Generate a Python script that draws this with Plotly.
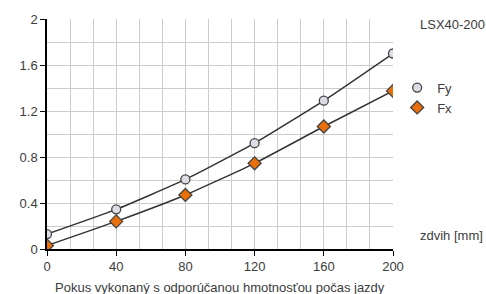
import plotly.graph_objects as go

stroke = [0, 40, 80, 120, 160, 200]
fy = [0.13, 0.345, 0.605, 0.92, 1.29, 1.70]
fx = [0.03, 0.24, 0.47, 0.745, 1.065, 1.375]
x_ticks = [0, 40, 80, 120, 160, 200]
y_ticks = [0, 0.4, 0.8, 1.2, 1.6, 2]
y_tick_text = ["0", "0.4", "0.8", "1.2", "1.6", "2"]

font_family = "Liberation Sans, Arial, sans-serif"
text_color = "#3c3c3c"
grid_color = "#cccccc"
line_color = "#333333"

fy_marker = dict(symbol="circle", size=9, color="#dcdce4",
                 line=dict(color="#444444", width=1.3))
fx_marker = dict(symbol="diamond", size=10, color="#e8700a",
                 line=dict(color="#444444", width=1.3))

fig = go.Figure()
fig.add_trace(go.Scatter(
    x=stroke, y=fy, name="Fy", mode="lines+markers", showlegend=False,
    line=dict(color=line_color, width=1.5, shape="spline", smoothing=0.5),
    marker=fy_marker,
))
fig.add_trace(go.Scatter(
    x=stroke, y=fx, name="Fx", mode="lines+markers", showlegend=False,
    line=dict(color=line_color, width=1.5, shape="spline", smoothing=0.5),
    marker=fx_marker,
))
# legend entries (markers only, like the reference legend)
fig.add_trace(go.Scatter(x=[None], y=[None], name="Fy", mode="markers",
                         marker=fy_marker))
fig.add_trace(go.Scatter(x=[None], y=[None], name="Fx", mode="markers",
                         marker=fx_marker))

fig.update_layout(
    width=486, height=294,
    margin=dict(l=47, r=93, t=17, b=45),
    paper_bgcolor="white", plot_bgcolor="white",
    font=dict(family=font_family, size=13, color=text_color),
    showlegend=True,
    legend=dict(x=1.012, y=0.767, xanchor="left", yanchor="top",
                font=dict(size=13, color=text_color),
                itemwidth=30, tracegroupgap=0, bgcolor="rgba(0,0,0,0)"),
    xaxis=dict(
        range=[0, 200], tickvals=x_ticks, ticks="outside", ticklen=5,
        tickcolor="black", showline=True, linecolor="black", linewidth=1.5,
        showgrid=True, gridcolor=grid_color, gridwidth=1, zeroline=False,
        minor=dict(tick0=0, dtick=40 / 3, showgrid=True, gridcolor=grid_color,
                   gridwidth=1, ticks=""),
        tickfont=dict(size=13, color=text_color),
    ),
    yaxis=dict(
        range=[0, 2], tickvals=y_ticks, ticktext=y_tick_text, ticks="outside",
        ticklen=5, tickcolor="black", showline=True, linecolor="black",
        linewidth=1.5, showgrid=True, gridcolor=grid_color, gridwidth=1,
        zeroline=False,
        minor=dict(tick0=0, dtick=0.2, showgrid=True, gridcolor=grid_color,
                   gridwidth=1, ticks=""),
        tickfont=dict(size=13, color=text_color),
    ),
    annotations=[
        dict(text="LSX40-200", xref="paper", yref="paper", x=1.072, y=0.978,
             xanchor="left", yanchor="middle", showarrow=False,
             font=dict(size=13, color=text_color)),
        dict(text="zdvih [mm]", xref="paper", yref="paper", x=1.072, y=0.06,
             xanchor="left", yanchor="middle", showarrow=False,
             font=dict(size=13, color=text_color)),
        dict(text="Pokus vykonaný s odporúčanou hmotnosťou počas jazdy",
             xref="paper", yref="paper", x=0.5, y=0, yshift=-38,
             xanchor="center", yanchor="middle", showarrow=False,
             font=dict(size=13, color=text_color)),
    ],
)

fig.write_html(
    "out.html",
    config={"displayModeBar": False},
    post_script="document.body.style.margin='0';document.body.style.overflow='hidden';",
)
